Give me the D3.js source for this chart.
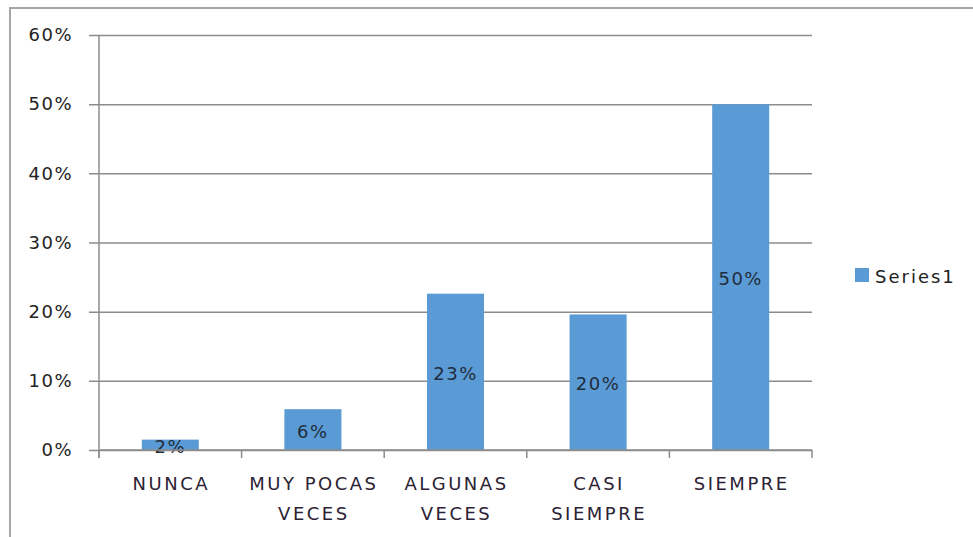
<!DOCTYPE html>
<html lang="es">
	<head>
		<meta charset="utf-8">
		<title>Frecuencia</title>
		<script src="https://cdn.jsdelivr.net/npm/d3@7"></script>
		<style>
			body { margin: 0; background: #fff; }
		</style>
	</head>
	<body>
		<script>

			// Data
			var categories = [["NUNCA"], ["MUY POCAS", "VECES"], ["ALGUNAS", "VECES"], ["CASI", "SIEMPRE"], ["SIEMPRE"]];
			var values = [0.015, 0.059, 0.226, 0.196, 0.50];
			var valueLabels = ["2%", "6%", "23%", "20%", "50%"];
			var yTicks = [0, 0.1, 0.2, 0.3, 0.4, 0.5, 0.6];
			var seriesName = "Series1";

			var w = 973, h = 537;
			// plot box (note: "top" is reserved on window, so prefixed names)
			var plotLeft = 99, plotRight = 812, plotTop = 35, plotBottom = 450;
			var barColor = "#5b9bd5";
			var font = "'DejaVu Sans', Verdana, sans-serif";

			var svg = d3.select("body").append("svg")
				.attr("width", w)
				.attr("height", h);

			// chart frame (runs off the right and bottom edge)
			svg.append("rect")
				.attr("x", 10).attr("y", 8)
				.attr("width", w + 20).attr("height", h + 20)
				.attr("fill", "none")
				.attr("stroke", "#a6a6a6")
				.attr("stroke-width", 2);

			var xScale = d3.scaleBand()
				.domain(d3.range(categories.length))
				.range([plotLeft, plotRight])
				.paddingInner(0.6)
				.paddingOuter(0.3);

			var yScale = d3.scaleLinear()
				.domain([0, 0.6])
				.range([plotBottom, plotTop]);

			// gridlines + y labels
			var yAxis = d3.axisLeft(yScale)
				.tickValues(yTicks)
				.tickFormat(d3.format(".0%"))
				.tickSize(-(plotRight - plotLeft))
				.tickSizeOuter(0)
				.tickPadding(26);

			var gy = svg.append("g")
				.attr("transform", "translate(" + plotLeft + ",0)")
				.call(yAxis);
			gy.select(".domain").remove();
			gy.selectAll(".tick line")
				.attr("x1", -10)
				.attr("stroke", "#8c8c8c")
				.attr("stroke-width", 1.5);
			gy.selectAll(".tick text")
				.attr("font-family", font)
				.attr("font-size", "18px")
				.attr("letter-spacing", "1.5px")
				.attr("fill", "#222");

			// bars
			svg.selectAll("rect.bar")
				.data(values)
				.enter()
				.append("rect")
				.attr("class", "bar")
				.attr("x", function(d, i) { return xScale(i); })
				.attr("y", function(d) { return yScale(d); })
				.attr("width", xScale.bandwidth())
				.attr("height", function(d) { return plotBottom - yScale(d); })
				.attr("fill", barColor);

			// value labels
			svg.selectAll("text.val")
				.data(values)
				.enter()
				.append("text")
				.attr("class", "val")
				.text(function(d, i) { return valueLabels[i]; })
				.attr("x", function(d, i) { return xScale(i) + xScale.bandwidth() / 2; })
				.attr("y", function(d) { return (yScale(d) + plotBottom) / 2 + 8; })
				.attr("text-anchor", "middle")
				.attr("font-family", font)
				.attr("font-size", "18px")
				.attr("letter-spacing", "1.5px")
				.attr("fill", "#1f2d3d");

			// x axis line and ticks
			var step = (plotRight - plotLeft) / categories.length;
			var gx = svg.append("g");
			gx.append("line")
				.attr("x1", plotLeft).attr("x2", plotRight)
				.attr("y1", plotBottom).attr("y2", plotBottom)
				.attr("stroke", "#8c8c8c")
				.attr("stroke-width", 1.5);
			gx.selectAll("line.tick")
				.data(d3.range(categories.length + 1))
				.enter()
				.append("line")
				.attr("class", "tick")
				.attr("x1", function(i) { return plotLeft + i * step; })
				.attr("x2", function(i) { return plotLeft + i * step; })
				.attr("y1", plotBottom)
				.attr("y2", plotBottom + 8)
				.attr("stroke", "#8c8c8c")
				.attr("stroke-width", 1.5);
			// y axis line
			gx.append("line")
				.attr("x1", plotLeft).attr("x2", plotLeft)
				.attr("y1", plotTop).attr("y2", plotBottom + 8)
				.attr("stroke", "#8c8c8c")
				.attr("stroke-width", 1.5);

			// category labels
			var cat = svg.selectAll("text.cat")
				.data(categories)
				.enter()
				.append("text")
				.attr("class", "cat")
				.attr("text-anchor", "middle")
				.attr("font-family", font)
				.attr("font-size", "18px")
				.attr("letter-spacing", "2.5px")
				.attr("fill", "#2b2233");
			cat.selectAll("tspan")
				.data(function(d, i) { return d.map(function(s) { return { s: s, i: i }; }); })
				.enter()
				.append("tspan")
				.attr("x", function(d) { return xScale(d.i) + xScale.bandwidth() / 2 + 1; })
				.attr("y", function(d, j) { return 490 + j * 30; })
				.text(function(d) { return d.s; });

			// legend
			svg.append("rect")
				.attr("x", 855).attr("y", 268)
				.attr("width", 14).attr("height", 14)
				.attr("fill", barColor);
			svg.append("text")
				.attr("x", 875).attr("y", 283)
				.text(seriesName)
				.attr("font-family", font)
				.attr("font-size", "18px")
				.attr("letter-spacing", "2px")
				.attr("fill", "#222");

		</script>
	</body>
</html>
